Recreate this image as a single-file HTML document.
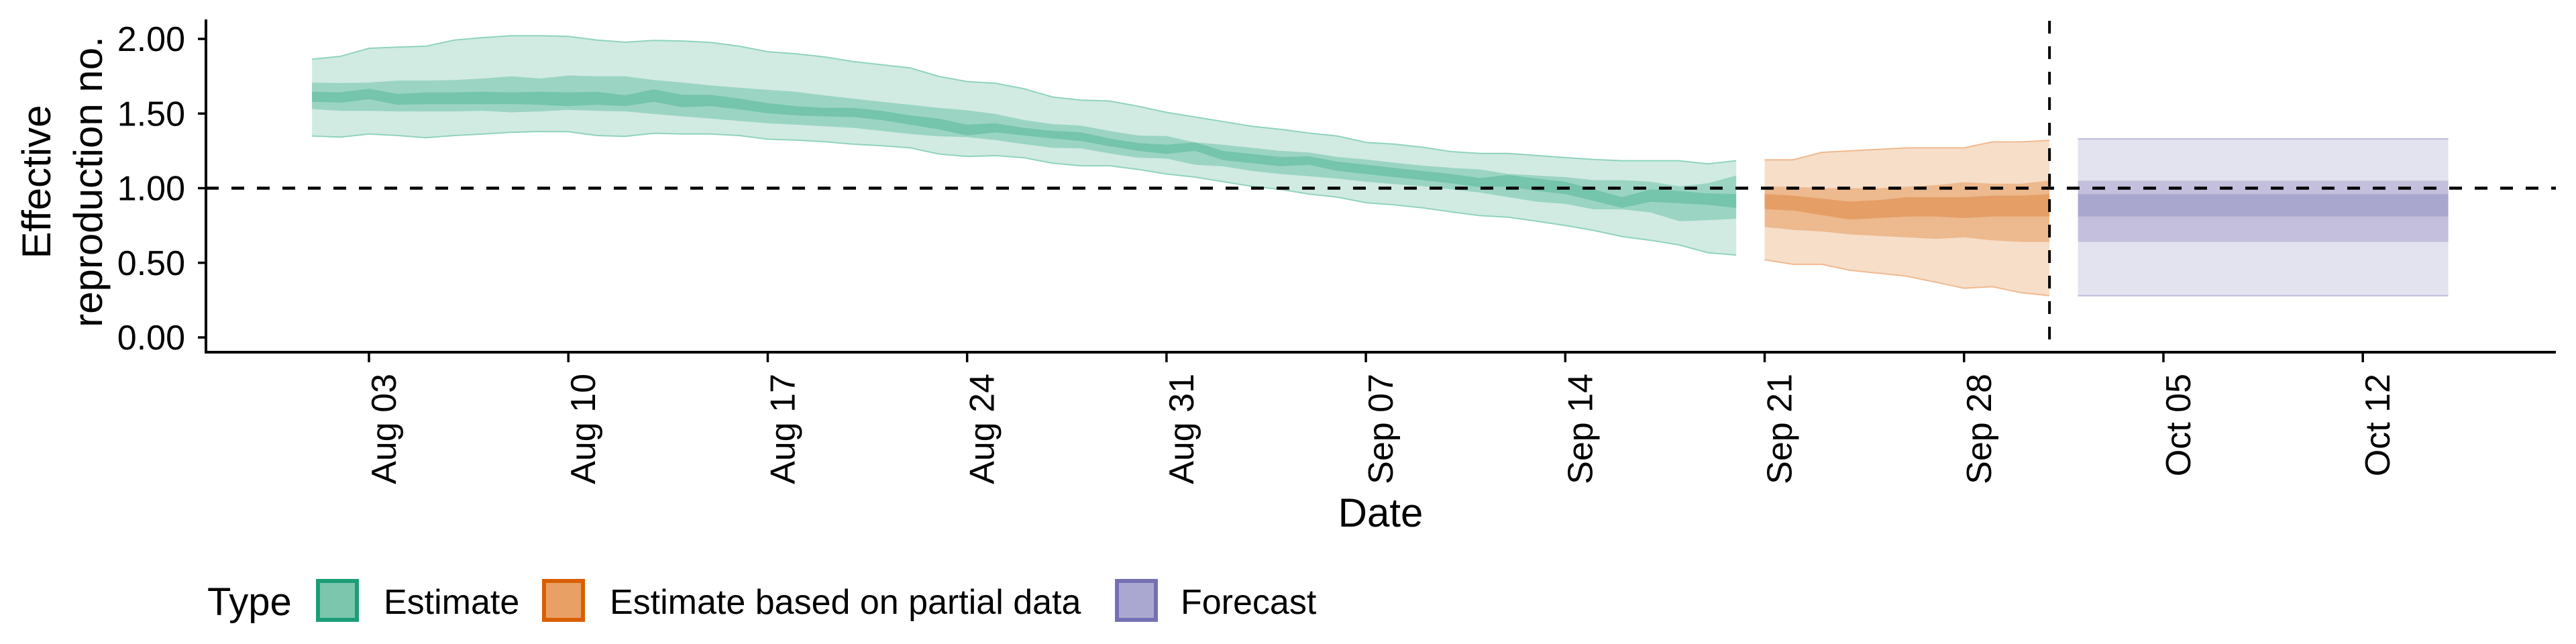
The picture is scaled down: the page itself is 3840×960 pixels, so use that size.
<!DOCTYPE html>
<html><head><meta charset="utf-8"><style>
html,body{margin:0;padding:0;background:#fff;}
svg{display:block;font-family:"Liberation Sans",sans-serif;}
</style></head><body>
<svg id="chart" width="3840" height="960" viewBox="0 0 3840 960" xmlns="http://www.w3.org/2000/svg">
<g id="bands"></g>
<g id="axes"></g>
</svg>
<script>
// ---- data (day offsets relative to Aug 03) ----
const estDays0 = -2; // Aug 01
const estUpper90 = [1.864,1.883,1.937,1.945,1.951,1.992,2.009,2.021,2.021,2.017,1.992,1.978,1.990,1.986,1.976,1.951,1.914,
 1.900,1.879,1.848,1.827,1.806,1.749,1.714,1.703,1.666,1.611,1.590,1.584,1.549,1.508,1.477,1.446,
 1.415,1.394,1.369,1.349,1.307,1.295,1.274,1.245,1.233,1.233,1.219,1.205,1.192,1.184,1.184,1.184,1.163,1.184];
const estLower90 = [1.349,1.342,1.363,1.353,1.338,1.353,1.363,1.374,1.380,1.378,1.353,1.347,1.368,1.363,1.363,1.353,1.328,
 1.322,1.311,1.295,1.284,1.270,1.229,1.212,1.218,1.204,1.167,1.150,1.150,1.126,1.095,1.074,1.043,
 1.012,0.992,0.961,0.940,0.903,0.888,0.868,0.841,0.816,0.806,0.779,0.750,0.717,0.676,0.651,0.620,0.568,0.552];
const estUpper50 = [1.708,1.704,1.708,1.721,1.721,1.725,1.735,1.749,1.735,1.755,1.749,1.749,1.725,1.708,1.688,1.673,1.659,
 1.646,1.621,1.600,1.579,1.559,1.538,1.522,1.497,1.456,1.429,1.419,1.384,1.353,1.349,1.307,1.291,
 1.270,1.250,1.239,1.209,1.192,1.171,1.151,1.136,1.126,1.095,1.085,1.074,1.054,1.054,1.043,1.012,1.033,1.085];
const estLower50 = [1.530,1.518,1.518,1.514,1.514,1.514,1.518,1.508,1.514,1.524,1.518,1.514,1.497,1.481,1.466,1.450,1.435,
 1.425,1.414,1.404,1.384,1.363,1.347,1.342,1.322,1.295,1.270,1.266,1.233,1.204,1.198,1.157,1.146,
 1.115,1.095,1.080,1.064,1.043,1.027,1.012,0.992,0.971,0.940,0.909,0.895,0.858,0.858,0.837,0.779,0.785,0.795];
const estUpper20 = [1.646,1.642,1.666,1.631,1.642,1.642,1.646,1.642,1.646,1.642,1.646,1.622,1.662,1.625,1.625,1.600,1.570,
 1.549,1.538,1.538,1.518,1.487,1.466,1.425,1.435,1.404,1.384,1.374,1.333,1.302,1.291,1.307,1.249,
 1.229,1.209,1.213,1.178,1.157,1.136,1.115,1.095,1.068,1.089,1.064,1.043,0.992,0.940,0.992,0.981,0.965,0.961];
const estLower20 = [1.579,1.573,1.596,1.559,1.563,1.563,1.563,1.563,1.559,1.549,1.559,1.549,1.579,1.542,1.549,1.528,1.502,
 1.487,1.481,1.477,1.456,1.425,1.394,1.353,1.374,1.353,1.333,1.316,1.281,1.250,1.229,1.250,1.188,
 1.167,1.147,1.157,1.115,1.095,1.074,1.054,1.033,1.006,1.012,0.981,0.961,0.915,0.868,0.909,0.899,0.888,0.868];

const partDays0 = 49; // Sep 21
const partUpper90 = [1.19,1.19,1.24,1.25,1.26,1.27,1.27,1.27,1.31,1.31,1.32];
const partLower90 = [0.52,0.49,0.49,0.45,0.43,0.41,0.37,0.33,0.34,0.30,0.28];
const partUpper50 = [1.01,1.01,1.00,1.00,1.00,1.01,1.02,1.04,1.03,1.03,1.05];
const partLower50 = [0.74,0.72,0.71,0.69,0.68,0.67,0.66,0.67,0.65,0.64,0.64];
const partUpper20 = [0.96,0.95,0.93,0.91,0.92,0.94,0.94,0.94,0.95,0.95,0.96];
const partLower20 = [0.86,0.85,0.82,0.79,0.80,0.81,0.81,0.80,0.81,0.81,0.81];

const fcDays = [60, 73]; // Oct 02 .. Oct 15
const fcBands = [0.28, 1.33, 0.64, 1.05, 0.81, 0.96]; // lower90, upper90, lower50, upper50, lower20, upper20

const xTickDays = [0,7,14,21,28,35,42,49,56,63,70];
const xTickLabels = ["Aug 03","Aug 10","Aug 17","Aug 24","Aug 31","Sep 07","Sep 14","Sep 21","Sep 28","Oct 05","Oct 12"];
const yTicks = [0,0.5,1,1.5,2];
const yTickLabels = ["0.00","0.50","1.00","1.50","2.00"];
const refLineValue = 1;
const forecastStartDay = 59;

// ---- scales ----
const X0 = 550, DAY = 42.46;
const Y0 = 503, UNIT = 222.5;
const xs = d => X0 + DAY * d;
const ys = v => Y0 - UNIT * v;
const NS = "http://www.w3.org/2000/svg";
const bands = document.getElementById('bands');
const axes = document.getElementById('axes');
function mk(tag, attrs, parent){
  const e = document.createElementNS(NS, tag);
  for (const k in attrs) e.setAttribute(k, attrs[k]);
  parent.appendChild(e);
  return e;
}
function ribbon(d0, lo, hi, fill, name){
  let pts = [];
  for (let i=0;i<hi.length;i++) pts.push(xs(d0+i).toFixed(1)+','+ys(hi[i]).toFixed(1));
  for (let i=lo.length-1;i>=0;i--) pts.push(xs(d0+i).toFixed(1)+','+ys(lo[i]).toFixed(1));
  const p = mk('polygon', {points: pts.join(' '), fill: fill}, bands);
  
  
  return p;
}
function edge(d0, vals, stroke, name){
  const pts = vals.map((v,i)=>xs(d0+i).toFixed(1)+','+ys(v).toFixed(1)).join(' ');
  const l = mk('polyline', {points: pts, fill:'none', stroke: stroke, 'stroke-width': 2}, bands);
  
  
}
// estimate
ribbon(estDays0, estLower90, estUpper90, '#d1ebe2', 'estimate-band-90');
edge(estDays0, estUpper90, '#8fd3bf', 'estimate-upper-edge');
edge(estDays0, estLower90, '#8fd3bf', 'estimate-lower-edge');
ribbon(estDays0, estLower50, estUpper50, '#9bd4c3', 'estimate-band-50');
ribbon(estDays0, estLower20, estUpper20, '#75c4ac', 'estimate-band-20');
// partial
ribbon(partDays0, partLower90, partUpper90, '#f6dec9', 'partial-band-90');
edge(partDays0, partUpper90, '#f0b98f', 'partial-upper-edge');
edge(partDays0, partLower90, '#f0b98f', 'partial-lower-edge');
ribbon(partDays0, partLower50, partUpper50, '#edb98e', 'partial-band-50');
ribbon(partDays0, partLower20, partUpper20, '#e59e66', 'partial-band-20');
// forecast
const fcFills = ['#e3e3ef','#c3bfdc','#aaa7cf'];
const fcNames = ['forecast-band-90','forecast-band-50','forecast-band-20'];
for (let k=0;k<3;k++){
  const lo = [fcBands[2*k], fcBands[2*k]], hi = [fcBands[2*k+1], fcBands[2*k+1]];
  const x1 = xs(fcDays[0]), x2 = xs(fcDays[1]);
  const r = mk('rect', {x:x1, y:ys(hi[0]), width:x2-x1, height:ys(lo[0])-ys(hi[0]), fill:fcFills[k]}, bands);
  
  
  if (k===0){
    const t = mk('line',{x1:x1,x2:x2,y1:ys(hi[0]),y2:ys(hi[0]),stroke:'#bdb9da','stroke-width':2},bands);
    
    
    const b = mk('line',{x1:x1,x2:x2,y1:ys(lo[0]),y2:ys(lo[0]),stroke:'#bdb9da','stroke-width':2},bands);
    
    
  }
}
// reference lines
const hl = mk('line',{x1:307,x2:3810,y1:ys(refLineValue),y2:ys(refLineValue),stroke:'#000','stroke-width':4.5,'stroke-dasharray':'19 19'},axes);


const vl = mk('line',{x1:xs(forecastStartDay),x2:xs(forecastStartDay),y1:31,y2:525,stroke:'#000','stroke-width':4,'stroke-dasharray':'19 19'},axes);


// axes lines
const ya = mk('line',{x1:307,x2:307,y1:29,y2:526.5,stroke:'#000','stroke-width':4},axes);


const xa = mk('line',{x1:305,x2:3810,y1:525,y2:525,stroke:'#000','stroke-width':4},axes);


// y ticks
yTicks.forEach((v,i)=>{
  const t = mk('line',{x1:295,x2:307,y1:ys(v),y2:ys(v),stroke:'#000','stroke-width':3.5},axes);
  
  
  const tx = mk('text',{x:276,y:ys(v)+18,'text-anchor':'end','font-size':52,fill:'#000'},axes);
  tx.textContent = yTickLabels[i];
  
  
});
// x ticks
xTickDays.forEach((d,i)=>{
  const x = xs(d);
  const t = mk('line',{x1:x,x2:x,y1:525,y2:540,stroke:'#000','stroke-width':3.5},axes);
  
  
  const bx = x + 40, by = 557;
  const tx = mk('text',{x:bx,y:by,'text-anchor':'end','font-size':52,fill:'#000',transform:`rotate(-90 ${bx} ${by})`},axes);
  tx.textContent = xTickLabels[i];
  
  
});
</script>
<svg style="position:absolute;left:0;top:0" width="3840" height="960" viewBox="0 0 3840 960" xmlns="http://www.w3.org/2000/svg" font-family="Liberation Sans, sans-serif">
  <g font-size="60" text-anchor="middle">
    <text x="75" y="271" transform="rotate(-90 75 271)">Effective</text>
    <text x="152" y="271" transform="rotate(-90 152 271)">reproduction no.</text>
  </g>
  <text x="2058" y="785" font-size="60" text-anchor="middle">Date</text>
  <g>
    <text x="309" y="917" font-size="58">Type</text>
    <g>
      <rect x="474" y="866" width="58" height="58" fill="#7cc6ae" stroke="#1b9e77" stroke-width="6"/>
      <text x="572" y="915" font-size="52">Estimate</text>
    </g>
    <g>
      <rect x="811" y="866" width="58" height="58" fill="#e8a065" stroke="#d95f02" stroke-width="6"/>
      <text x="909" y="915" font-size="52">Estimate based on partial data</text>
    </g>
    <g>
      <rect x="1665" y="866" width="58" height="58" fill="#aaa8d0" stroke="#7570b3" stroke-width="6"/>
      <text x="1760" y="915" font-size="52">Forecast</text>
    </g>
  </g>
</svg>
</body></html>
